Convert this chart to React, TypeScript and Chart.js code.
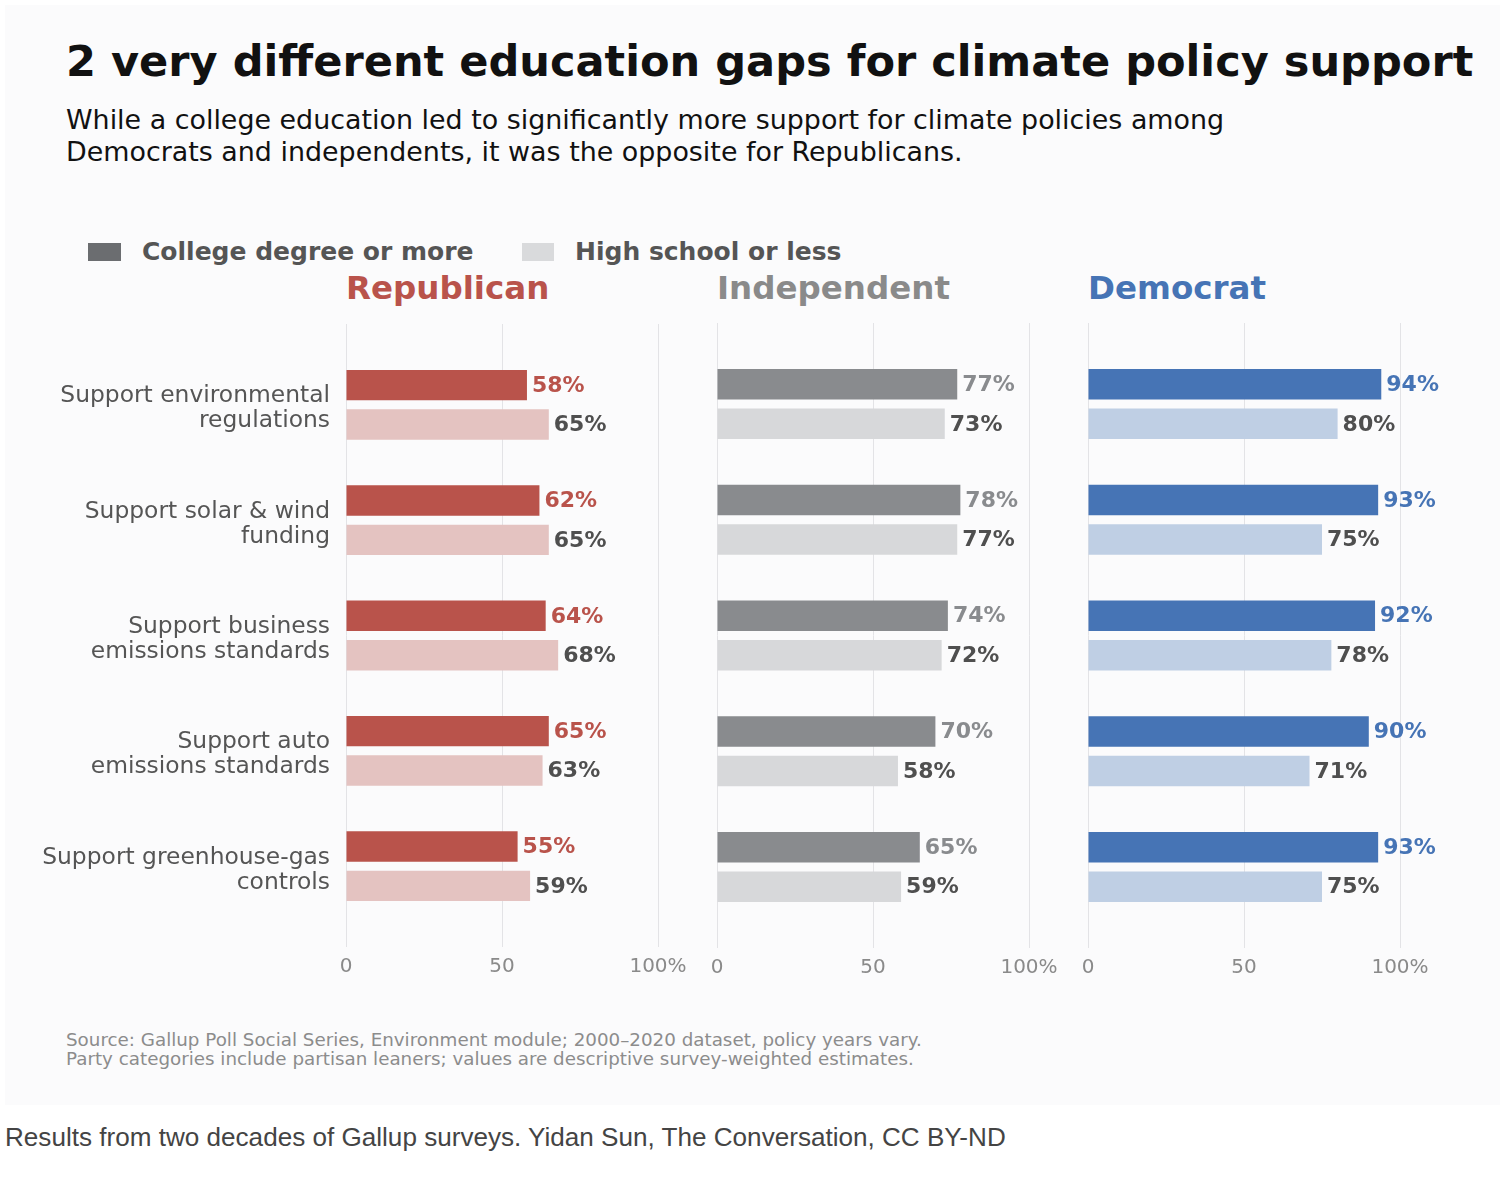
import { useEffect, useRef } from "react";
import { Chart, registerables } from "chart.js";

Chart.register(...registerables);

const CATEGORIES = [
    ["Support environmental", "regulations"],
    ["Support solar & wind", "funding"],
    ["Support business", "emissions standards"],
    ["Support auto", "emissions standards"],
    ["Support greenhouse-gas", "controls"],
];

const REP_COLLEGE = [58, 62, 64, 65, 55];
const REP_HS = [65, 65, 68, 63, 59];
const IND_COLLEGE = [77, 78, 74, 70, 65];
const IND_HS = [73, 77, 72, 58, 59];
const DEM_COLLEGE = [94, 93, 92, 90, 93];
const DEM_HS = [80, 75, 78, 71, 75];

const X_TICKS = [0, 50, 100];
const SERIES = ["College degree or more", "High school or less"];

const FONT = "'DejaVu Sans', sans-serif";
const HS_LABEL_COLOR = "#4f4f4f";

interface PanelDef {
    name: string;
    college: number[];
    hs: number[];
    dark: string;
    light: string;
    left: number;
    width: number;
    padLeft: number;
    padRight: number;
    showCategories: boolean;
}

const PANELS: PanelDef[] = [
    { name: "Republican", college: REP_COLLEGE, hs: REP_HS, dark: "#b9534b", light: "#e4c3c1", left: 20, width: 680, padLeft: 0, padRight: 42, showCategories: true },
    { name: "Independent", college: IND_COLLEGE, hs: IND_HS, dark: "#898b8e", light: "#d7d8da", left: 700, width: 371, padLeft: 17, padRight: 42, showCategories: false },
    { name: "Democrat", college: DEM_COLLEGE, hs: DEM_HS, dark: "#4674b5", light: "#bfcfe4", left: 1071, width: 429, padLeft: 17, padRight: 100, showCategories: false },
];

const TITLE_COLORS = ["#b9534b", "#8a8a8a", "#4674b5"];

// canvas top and the gap down to the plot area
const CANVAS_TOP = 283;
const PLOT_TOP = 323;
const PLOT_BOTTOM = 948;
const X_AXIS_H = 40;

function BarPanel({ panel }: { panel: PanelDef }) {
    const canvasRef = useRef<HTMLCanvasElement>(null);
    const chartRef = useRef<Chart | null>(null);

    useEffect(() => {
        if (!canvasRef.current) return;
        chartRef.current?.destroy();

        const labelColors = [panel.dark, HS_LABEL_COLOR];

        const valueLabels = {
            id: "valueLabels",
            afterDatasetsDraw(chart: Chart) {
                const ctx = chart.ctx;
                ctx.save();
                ctx.font = `bold 22px ${FONT}`;
                ctx.textBaseline = "middle";
                ctx.textAlign = "left";
                chart.data.datasets.forEach((ds, d) => {
                    const meta = chart.getDatasetMeta(d);
                    meta.data.forEach((bar: any, i: number) => {
                        const v = (ds.data[i] as any).x;
                        ctx.fillStyle = labelColors[d];
                        ctx.fillText(`${v}%`, bar.x + 5, bar.y + 1);
                    });
                });
                ctx.restore();
            },
        };

        const fixTicks = (values: number[]) => (scale: any) => {
            scale.ticks = values.map((value) => ({ value }));
        };

        chartRef.current = new Chart(canvasRef.current, {
            type: "bar",
            data: {
                datasets: [
                    {
                        label: SERIES[0],
                        data: panel.college.map((v, i) => ({ x: v, y: i })),
                        backgroundColor: panel.dark,
                    },
                    {
                        label: SERIES[1],
                        data: panel.hs.map((v, i) => ({ x: v, y: i })),
                        backgroundColor: panel.light,
                    },
                ],
            },
            options: {
                indexAxis: "y",
                animation: false,
                responsive: true,
                maintainAspectRatio: false,
                layout: {
                    padding: { top: PLOT_TOP - CANVAS_TOP, bottom: 0, left: panel.padLeft, right: panel.padRight },
                },
                datasets: {
                    bar: {
                        categoryPercentage: 0.683,
                        barPercentage: 0.772,
                        borderWidth: 0,
                    },
                },
                scales: {
                    x: {
                        type: "linear",
                        min: 0,
                        max: 100,
                        afterBuildTicks: fixTicks(X_TICKS),
                        afterFit: (scale: any) => {
                            scale.height = X_AXIS_H;
                        },
                        grid: { color: "#e3e3e6", lineWidth: 1, drawTicks: false },
                        border: { display: false },
                        ticks: {
                            padding: 8,
                            maxRotation: 0,
                            color: "#8a8a8a",
                            font: { family: FONT, size: 20 },
                            callback: (v: any) => (v === 100 ? "100%" : String(v)),
                        },
                    },
                    y: {
                        type: "linear",
                        reverse: true,
                        offset: false,
                        min: -0.7,
                        max: 4.7,
                        display: panel.showCategories,
                        afterBuildTicks: fixTicks([0, 1, 2, 3, 4]),
                        afterFit: (scale: any) => {
                            if (panel.showCategories) scale.width = 326;
                        },
                        grid: { display: false, drawTicks: false, offset: false },
                        border: { display: false },
                        ticks: {
                            padding: 16,
                            labelOffset: 4,
                            color: "#555555",
                            font: { family: FONT, size: 23.4, lineHeight: 1.07 },
                            callback: (v: any) => CATEGORIES[v as number],
                        },
                    },
                },
                plugins: {
                    legend: { display: false },
                    tooltip: { enabled: false },
                },
            },
            plugins: [valueLabels],
        });

        return () => {
            chartRef.current?.destroy();
            chartRef.current = null;
        };
    }, [panel]);

    return (
        <div
            style={{
                position: "absolute",
                left: panel.left,
                top: CANVAS_TOP,
                width: panel.width,
                height: PLOT_BOTTOM + X_AXIS_H - CANVAS_TOP,
            }}
        >
            <canvas ref={canvasRef} role="img" aria-label={`${panel.name} bar chart`} />
        </div>
    );
}

const abs = (left: number, top: number, extra: React.CSSProperties = {}): React.CSSProperties => ({
    position: "absolute",
    left,
    top,
    whiteSpace: "nowrap",
    ...extra,
});

export default function App() {
    const panelTitleLefts = [346, 717, 1088];
    return (
        <div style={{ position: "absolute", left: 0, top: 0, width: 1504, height: 1180, background: "#ffffff", fontFamily: FONT, overflow: "hidden" }}>
            <div style={{ position: "absolute", left: 5, top: 5, width: 1495, height: 1100, background: "#fbfbfc" }} />
            <div style={abs(66, 33.8, { fontSize: 43.1, lineHeight: "54px", fontWeight: "bold", color: "#111111" })}>
                2 very different education gaps for climate policy support
            </div>
            <div style={abs(66, 104.4, { fontSize: 26.9, lineHeight: "31.5px", color: "#111111" })}>
                While a college education led to significantly more support for climate policies among
                <br />
                Democrats and independents, it was the opposite for Republicans.
            </div>

            <div style={abs(88, 243, { width: 33, height: 18, background: "#6b6d70" })} />
            <div style={abs(142, 237.35, { fontSize: 25, lineHeight: "30px", fontWeight: "bold", color: "#555555" })}>{SERIES[0]}</div>
            <div style={abs(522, 243, { width: 32, height: 18, background: "#d9dadc" })} />
            <div style={abs(575, 237.35, { fontSize: 25, lineHeight: "30px", fontWeight: "bold", color: "#555555" })}>{SERIES[1]}</div>

            {PANELS.map((p, i) => (
                <div key={p.name} style={abs(panelTitleLefts[i], 269.8, { fontSize: 32.5, lineHeight: "36px", fontWeight: "bold", color: TITLE_COLORS[i] })}>
                    {p.name}
                </div>
            ))}

            {PANELS.map((p) => (
                <BarPanel key={p.name} panel={p} />
            ))}

            <div style={abs(66, 1029.6, { fontSize: 18.3, lineHeight: "19.5px", color: "#8c8c8c" })}>
                Source: Gallup Poll Social Series, Environment module; 2000–2020 dataset, policy years vary.
                <br />
                Party categories include partisan leaners; values are descriptive survey-weighted estimates.
            </div>

            <div style={abs(5, 1122, { fontSize: 26.1, lineHeight: "30px", color: "#444444", fontFamily: "'Liberation Sans', Arial, sans-serif" })}>
                Results from two decades of Gallup surveys. Yidan Sun, The Conversation, CC BY-ND
            </div>
        </div>
    );
}
